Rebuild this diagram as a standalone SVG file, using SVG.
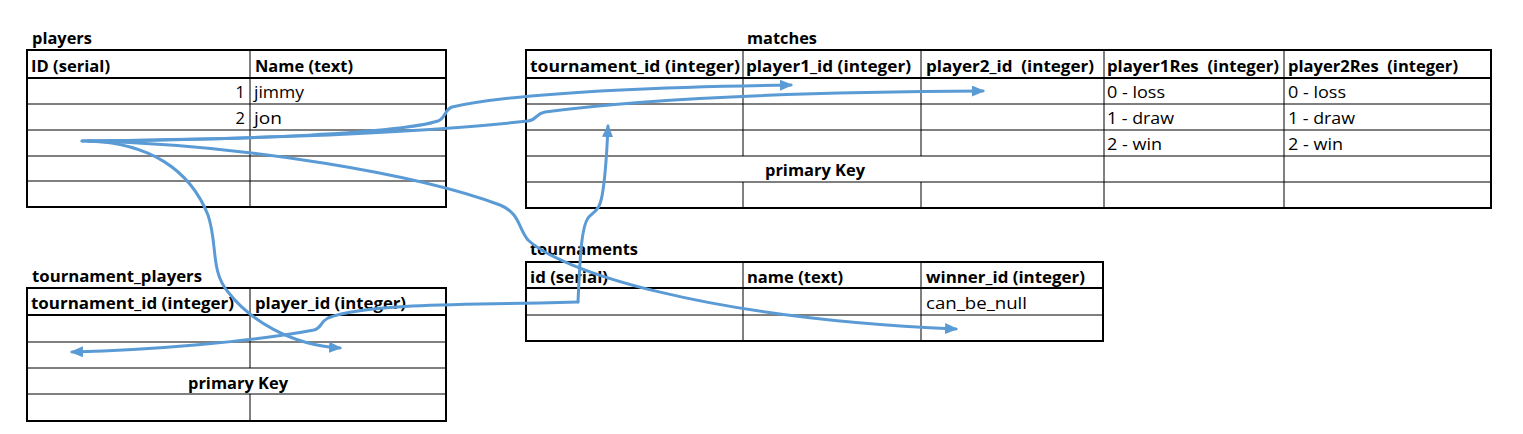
<svg xmlns="http://www.w3.org/2000/svg" width="1523" height="434" viewBox="0 0 1523 434">
<style>
.t{font-family:"Open Sans","Liberation Sans",sans-serif;font-size:16.5px;fill:#000;white-space:pre}
.b{font-weight:bold}
.o{fill:none;stroke:#000;stroke-width:2}
.h{stroke:#000;stroke-width:2}
.l{stroke:#000;stroke-width:1}
.c{fill:none;stroke:#5B9BD5;stroke-width:3;stroke-linecap:round;stroke-linejoin:round}
</style>
<defs>
<marker id="ah" markerUnits="userSpaceOnUse" markerWidth="13" markerHeight="11" viewBox="0 0 13 11" refX="11" refY="5.5" orient="auto">
<path d="M0,0 L13,5.5 L0,11 z" fill="#5B9BD5"/>
</marker>
</defs>
<rect width="1523" height="434" fill="#fff"/>

<g id="players">
<text class="t b" x="32" y="44" textLength="60" lengthAdjust="spacingAndGlyphs">players</text>
<rect class="o" x="27" y="50" width="419" height="157"/>
<line class="h" x1="27" y1="78" x2="446" y2="78"/>
<line class="l" x1="27" y1="104" x2="446" y2="104"/>
<line class="l" x1="27" y1="130" x2="446" y2="130"/>
<line class="l" x1="27" y1="156" x2="446" y2="156"/>
<line class="l" x1="27" y1="181" x2="446" y2="181"/>
<line class="l" x1="250" y1="50" x2="250" y2="207"/>
<text class="t b" x="31" y="72" textLength="79" lengthAdjust="spacingAndGlyphs">ID (serial)</text>
<text class="t b" x="255" y="72" textLength="98" lengthAdjust="spacingAndGlyphs">Name (text)</text>
<text class="t" x="245" y="98" text-anchor="end">1</text>
<text class="t" x="254" y="98" textLength="50" lengthAdjust="spacingAndGlyphs">jimmy</text>
<text class="t" x="245" y="124" text-anchor="end">2</text>
<text class="t" x="254" y="124" textLength="28" lengthAdjust="spacingAndGlyphs">jon</text>
</g>

<g id="matches">
<text class="t b" x="747" y="44" textLength="70" lengthAdjust="spacingAndGlyphs">matches</text>
<rect class="o" x="526" y="50" width="965" height="158"/>
<line class="h" x1="526" y1="78" x2="1491" y2="78"/>
<line class="l" x1="526" y1="104" x2="1491" y2="104"/>
<line class="l" x1="526" y1="130" x2="1491" y2="130"/>
<line class="l" x1="526" y1="156" x2="1491" y2="156"/>
<line class="l" x1="526" y1="182" x2="1491" y2="182"/>
<line class="l" x1="743" y1="50" x2="743" y2="156"/>
<line class="l" x1="743" y1="182" x2="743" y2="208"/>
<line class="l" x1="921" y1="50" x2="921" y2="156"/>
<line class="l" x1="921" y1="182" x2="921" y2="208"/>
<line class="l" x1="1104" y1="50" x2="1104" y2="208"/>
<line class="l" x1="1284" y1="50" x2="1284" y2="208"/>
<text class="t b" x="530" y="72" textLength="210" lengthAdjust="spacingAndGlyphs">tournament_id (integer)</text>
<text class="t b" x="746" y="72" textLength="165" lengthAdjust="spacingAndGlyphs">player1_id (integer)</text>
<text class="t b" x="926" y="72" textLength="168" lengthAdjust="spacingAndGlyphs">player2_id  (integer)</text>
<text class="t b" x="1107" y="72" textLength="172" lengthAdjust="spacingAndGlyphs">player1Res  (integer)</text>
<text class="t b" x="1288" y="72" textLength="170" lengthAdjust="spacingAndGlyphs">player2Res  (integer)</text>
<text class="t" x="1107" y="98" textLength="58" lengthAdjust="spacingAndGlyphs">0 - loss</text>
<text class="t" x="1107" y="124" textLength="67" lengthAdjust="spacingAndGlyphs">1 - draw</text>
<text class="t" x="1107" y="150" textLength="55" lengthAdjust="spacingAndGlyphs">2 - win</text>
<text class="t" x="1288" y="98" textLength="58" lengthAdjust="spacingAndGlyphs">0 - loss</text>
<text class="t" x="1288" y="124" textLength="67" lengthAdjust="spacingAndGlyphs">1 - draw</text>
<text class="t" x="1288" y="150" textLength="55" lengthAdjust="spacingAndGlyphs">2 - win</text>
<text class="t b" x="765" y="176" textLength="100" lengthAdjust="spacingAndGlyphs">primary Key</text>
</g>

<g id="tournament_players">
<text class="t b" x="32" y="282" textLength="170" lengthAdjust="spacingAndGlyphs">tournament_players</text>
<rect class="o" x="27" y="288" width="419" height="133"/>
<line class="h" x1="27" y1="315" x2="446" y2="315"/>
<line class="l" x1="27" y1="342" x2="446" y2="342"/>
<line class="l" x1="27" y1="368" x2="446" y2="368"/>
<line class="l" x1="27" y1="394" x2="446" y2="394"/>
<line class="l" x1="250" y1="288" x2="250" y2="368"/>
<line class="l" x1="250" y1="394" x2="250" y2="421"/>
<text class="t b" x="31" y="309" textLength="203" lengthAdjust="spacingAndGlyphs">tournament_id (integer)</text>
<text class="t b" x="255" y="309" textLength="151" lengthAdjust="spacingAndGlyphs">player_id (integer)</text>
<text class="t b" x="188" y="389" textLength="100" lengthAdjust="spacingAndGlyphs">primary Key</text>
</g>

<g id="tournaments">
<text class="t b" x="530" y="255" textLength="108" lengthAdjust="spacingAndGlyphs">tournaments</text>
<rect class="o" x="526" y="262" width="577" height="79"/>
<line class="h" x1="526" y1="288" x2="1103" y2="288"/>
<line class="l" x1="526" y1="315" x2="1103" y2="315"/>
<line class="l" x1="743" y1="262" x2="743" y2="341"/>
<line class="l" x1="921" y1="262" x2="921" y2="341"/>
<text class="t b" x="530" y="283" textLength="78" lengthAdjust="spacingAndGlyphs">id (serial)</text>
<text class="t b" x="747" y="283" textLength="96" lengthAdjust="spacingAndGlyphs">name (text)</text>
<text class="t b" x="926" y="283" textLength="159" lengthAdjust="spacingAndGlyphs">winner_id (integer)</text>
<text class="t" x="926" y="309" textLength="101" lengthAdjust="spacingAndGlyphs">can_be_null</text>
</g>

<g id="connectors">
<path class="c" marker-end="url(#ah)" d="M82,141 C250,140 400,133 438,121 C446,118 444,110 452,107 C520,92 650,87 791,85"/>
<path class="c" marker-end="url(#ah)" d="M82,141 C250,139 420,133 528,121 C537,120 535,114 545,112 C650,98 800,92 983,91"/>
<path class="c" marker-end="url(#ah)" d="M88,141 C250,145 420,175 500,205 C520,213 518,228 528,240 C560,270 700,318 956,329"/>
<path class="c" marker-end="url(#ah)" d="M88,141 C150,143 190,170 208,215 C218,245 210,270 228,292 C250,320 290,345 340,348"/>
<path class="c" marker-end="url(#ah)" d="M578,302 C580,260 581,228 588,218 C595,210 600,212 603,190 C606,170 607,150 608,126"/>
<path class="c" marker-end="url(#ah)" d="M578,302 L540,303 C450,304 360,305 328,318 C320,322 322,328 314,330 C250,342 150,350 72,352"/>
</g>
</svg>
